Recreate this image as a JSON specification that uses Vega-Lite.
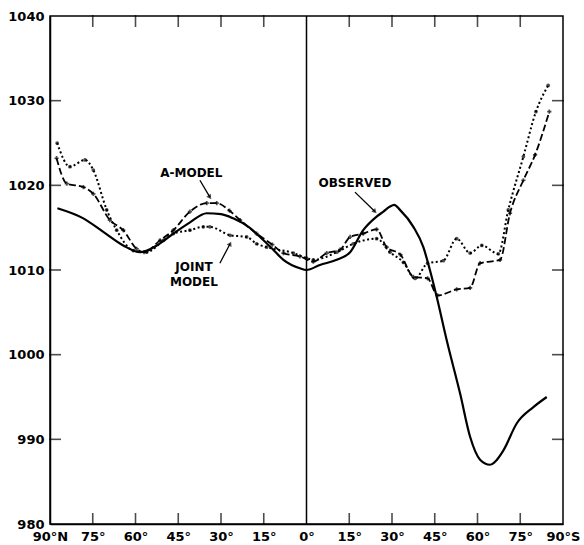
{
  "$schema": "https://vega.github.io/schema/vega-lite/v6.json",
  "width": 513,
  "height": 508,
  "autosize": {"type": "none"},
  "padding": {"left": 50, "top": 16, "right": 21, "bottom": 21},
  "config": {
    "view": {"stroke": "black", "strokeWidth": 1.5},
    "axis": {
      "grid": false,
      "title": null,
      "domainColor": "black",
      "domainWidth": 1.5,
      "ticks": false,
      "labelColor": "black",
      "labelFont": "DejaVu Sans",
      "labelFontSize": 13,
      "labelFontWeight": "bold",
      "labelPadding": 6,
      "labelFlush": false
    }
  },
  "datasets": {
    "curves": [
      {"series": "Observed", "lat": -87.4, "p": 1017.3},
      {"series": "Observed", "lat": -78.3, "p": 1016.1},
      {"series": "Observed", "lat": -71.3, "p": 1014.5},
      {"series": "Observed", "lat": -64.3, "p": 1012.9},
      {"series": "Observed", "lat": -58.4, "p": 1012.1},
      {"series": "Observed", "lat": -52, "p": 1013.0},
      {"series": "Observed", "lat": -46.7, "p": 1014.3},
      {"series": "Observed", "lat": -41, "p": 1015.6},
      {"series": "Observed", "lat": -35, "p": 1016.7},
      {"series": "Observed", "lat": -30, "p": 1016.6},
      {"series": "Observed", "lat": -25.7, "p": 1016.1},
      {"series": "Observed", "lat": -20, "p": 1015.0},
      {"series": "Observed", "lat": -16.3, "p": 1013.9},
      {"series": "Observed", "lat": -12, "p": 1012.5},
      {"series": "Observed", "lat": -8.1, "p": 1011.2},
      {"series": "Observed", "lat": -2.3, "p": 1010.2},
      {"series": "Observed", "lat": 0, "p": 1010.0},
      {"series": "Observed", "lat": 4.7, "p": 1010.6},
      {"series": "Observed", "lat": 10.6, "p": 1011.2},
      {"series": "Observed", "lat": 15.3, "p": 1012.1},
      {"series": "Observed", "lat": 19.9, "p": 1014.7},
      {"series": "Observed", "lat": 24.6, "p": 1016.3},
      {"series": "Observed", "lat": 27, "p": 1016.9},
      {"series": "Observed", "lat": 29.3, "p": 1017.5},
      {"series": "Observed", "lat": 30.8, "p": 1017.7},
      {"series": "Observed", "lat": 32.8, "p": 1017.1},
      {"series": "Observed", "lat": 37.5, "p": 1015.1},
      {"series": "Observed", "lat": 41, "p": 1012.7},
      {"series": "Observed", "lat": 43.3, "p": 1010.0},
      {"series": "Observed", "lat": 45.7, "p": 1006.8},
      {"series": "Observed", "lat": 49.2, "p": 1001.7},
      {"series": "Observed", "lat": 53.9, "p": 995.4},
      {"series": "Observed", "lat": 57.4, "p": 990.3},
      {"series": "Observed", "lat": 60.9, "p": 987.6},
      {"series": "Observed", "lat": 64.4, "p": 987.0},
      {"series": "Observed", "lat": 66, "p": 987.3},
      {"series": "Observed", "lat": 69.1, "p": 988.7},
      {"series": "Observed", "lat": 73.8, "p": 991.9},
      {"series": "Observed", "lat": 79.6, "p": 993.8},
      {"series": "Observed", "lat": 84.3, "p": 995.0},

      {"series": "A-model", "lat": -87.7, "p": 1023.2},
      {"series": "A-model", "lat": -84.1, "p": 1020.2},
      {"series": "A-model", "lat": -78.3, "p": 1019.8},
      {"series": "A-model", "lat": -74.8, "p": 1019.0},
      {"series": "A-model", "lat": -69, "p": 1015.9},
      {"series": "A-model", "lat": -64.3, "p": 1014.7},
      {"series": "A-model", "lat": -59.6, "p": 1012.5},
      {"series": "A-model", "lat": -57, "p": 1012.1},
      {"series": "A-model", "lat": -51.4, "p": 1013.5},
      {"series": "A-model", "lat": -46.7, "p": 1014.7},
      {"series": "A-model", "lat": -40.9, "p": 1016.9},
      {"series": "A-model", "lat": -35, "p": 1017.9},
      {"series": "A-model", "lat": -31.5, "p": 1017.9},
      {"series": "A-model", "lat": -27, "p": 1017.0},
      {"series": "A-model", "lat": -23.3, "p": 1015.9},
      {"series": "A-model", "lat": -17.5, "p": 1014.3},
      {"series": "A-model", "lat": -12, "p": 1013.0},
      {"series": "A-model", "lat": -8.1, "p": 1012.0},
      {"series": "A-model", "lat": -2.3, "p": 1011.6},
      {"series": "A-model", "lat": 2.4, "p": 1011.0},
      {"series": "A-model", "lat": 7.1, "p": 1012.0},
      {"series": "A-model", "lat": 11.8, "p": 1012.4},
      {"series": "A-model", "lat": 15.3, "p": 1013.9},
      {"series": "A-model", "lat": 19.9, "p": 1014.3},
      {"series": "A-model", "lat": 24.6, "p": 1014.8},
      {"series": "A-model", "lat": 28.1, "p": 1012.7},
      {"series": "A-model", "lat": 33, "p": 1011.8},
      {"series": "A-model", "lat": 37.5, "p": 1009.2},
      {"series": "A-model", "lat": 42.5, "p": 1009.0},
      {"series": "A-model", "lat": 46, "p": 1007.0},
      {"series": "A-model", "lat": 52.7, "p": 1007.7},
      {"series": "A-model", "lat": 57.4, "p": 1007.9},
      {"series": "A-model", "lat": 60.9, "p": 1010.8},
      {"series": "A-model", "lat": 67.9, "p": 1011.2},
      {"series": "A-model", "lat": 71.4, "p": 1016.7},
      {"series": "A-model", "lat": 76.1, "p": 1020.6},
      {"series": "A-model", "lat": 80.2, "p": 1023.6},
      {"series": "A-model", "lat": 85.2, "p": 1028.7},

      {"series": "Joint model", "lat": -87.5, "p": 1025.0},
      {"series": "Joint model", "lat": -83, "p": 1022.2},
      {"series": "Joint model", "lat": -77.7, "p": 1023.0},
      {"series": "Joint model", "lat": -74.8, "p": 1021.8},
      {"series": "Joint model", "lat": -70.1, "p": 1017.1},
      {"series": "Joint model", "lat": -66.6, "p": 1014.7},
      {"series": "Joint model", "lat": -60.8, "p": 1012.3},
      {"series": "Joint model", "lat": -56.1, "p": 1012.1},
      {"series": "Joint model", "lat": -50.2, "p": 1013.5},
      {"series": "Joint model", "lat": -46.7, "p": 1014.3},
      {"series": "Joint model", "lat": -40.9, "p": 1014.7},
      {"series": "Joint model", "lat": -36.2, "p": 1015.1},
      {"series": "Joint model", "lat": -33.9, "p": 1015.1},
      {"series": "Joint model", "lat": -26.8, "p": 1014.1},
      {"series": "Joint model", "lat": -21, "p": 1013.9},
      {"series": "Joint model", "lat": -17.5, "p": 1013.1},
      {"series": "Joint model", "lat": -14, "p": 1012.7},
      {"series": "Joint model", "lat": -4.6, "p": 1012.0},
      {"series": "Joint model", "lat": 0, "p": 1011.4},
      {"series": "Joint model", "lat": 2.4, "p": 1011.2},
      {"series": "Joint model", "lat": 10.6, "p": 1012.1},
      {"series": "Joint model", "lat": 16.4, "p": 1013.1},
      {"series": "Joint model", "lat": 24.6, "p": 1013.7},
      {"series": "Joint model", "lat": 29.3, "p": 1012.1},
      {"series": "Joint model", "lat": 34, "p": 1010.9},
      {"series": "Joint model", "lat": 38.1, "p": 1009.0},
      {"series": "Joint model", "lat": 42.5, "p": 1010.8},
      {"series": "Joint model", "lat": 48, "p": 1011.1},
      {"series": "Joint model", "lat": 52.7, "p": 1013.7},
      {"series": "Joint model", "lat": 57.4, "p": 1012.0},
      {"series": "Joint model", "lat": 61.5, "p": 1012.9},
      {"series": "Joint model", "lat": 67.3, "p": 1011.9},
      {"series": "Joint model", "lat": 70.8, "p": 1017.1},
      {"series": "Joint model", "lat": 76.1, "p": 1023.4},
      {"series": "Joint model", "lat": 80.5, "p": 1028.7},
      {"series": "Joint model", "lat": 84.8, "p": 1031.8}
    ],
    "labels": [
      {"text": "A-MODEL", "lat": -40.4, "p": 1021.5},
      {"text": "JOINT", "lat": -39.5, "p": 1010.3},
      {"text": "MODEL", "lat": -39.5, "p": 1008.6},
      {"text": "OBSERVED", "lat": 17, "p": 1020.3}
    ],
    "arrows": [
      {"name": "A", "lat": -37.4, "p": 1020.6, "lat2": -33.9, "p2": 1018.6},
      {"name": "J", "lat": -30.4, "p": 1010.8, "lat2": -26.8, "p2": 1013.1},
      {"name": "O", "lat": 17, "p": 1019.2, "lat2": 24, "p2": 1016.9}
    ],
    "zero": [{"lat": 0, "p": 1010}],
    "xticks": [
      {"lat": -75, "p": 980}, {"lat": -60, "p": 980}, {"lat": -45, "p": 980}, {"lat": -30, "p": 980}, {"lat": -15, "p": 980},
      {"lat": 15, "p": 980}, {"lat": 30, "p": 980}, {"lat": 45, "p": 980}, {"lat": 60, "p": 980}, {"lat": 75, "p": 980}
    ],
    "yticks": [
      {"lat": -90, "p": 990}, {"lat": -90, "p": 1000}, {"lat": -90, "p": 1010}, {"lat": -90, "p": 1020}, {"lat": -90, "p": 1030}
    ]
  },
  "resolve": {"axis": {"x": "independent", "y": "independent"}},
  "layer": [
    {
      "data": {"name": "curves"},
      "transform": [{"filter": "datum.series == 'Observed'"}],
      "mark": {"type": "line", "color": "black", "strokeWidth": 2.2, "interpolate": "monotone"},
      "encoding": {
        "x": {
          "field": "lat", "type": "quantitative",
          "scale": {"domain": [-90, 90], "nice": false},
          "axis": {
            "orient": "bottom",
            "values": [-90, -75, -60, -45, -30, -15, 0, 15, 30, 45, 60, 75, 90],
            "labelExpr": "datum.value == -90 ? '90°N' : datum.value == 90 ? '90°S' : abs(datum.value) + '°'"
          }
        },
        "y": {
          "field": "p", "type": "quantitative",
          "scale": {"domain": [980, 1040], "nice": false, "zero": false},
          "axis": {
            "orient": "left",
            "values": [980, 990, 1000, 1010, 1020, 1030, 1040],
            "format": "d"
          }
        }
      }
    },
    {
      "data": {"name": "zero"},
      "mark": {"type": "rule", "color": "black", "strokeWidth": 1.5},
      "encoding": {
        "x": {"field": "lat", "type": "quantitative", "scale": {"domain": [-90, 90], "nice": false}, "axis": null}
      }
    },
    {
      "data": {"name": "xticks"},
      "mark": {"type": "tick", "color": "black", "thickness": 1.6, "size": 12, "orient": "vertical", "yOffset": -5},
      "encoding": {
        "x": {"field": "lat", "type": "quantitative", "scale": {"domain": [-90, 90], "nice": false}, "axis": null},
        "y": {"field": "p", "type": "quantitative", "scale": {"domain": [980, 1040], "nice": false, "zero": false}, "axis": null}
      }
    },
    {
      "data": {"name": "xticks"},
      "mark": {"type": "tick", "color": "black", "thickness": 1.6, "size": 12, "orient": "vertical", "yOffset": -503},
      "encoding": {
        "x": {"field": "lat", "type": "quantitative", "scale": {"domain": [-90, 90], "nice": false}, "axis": null},
        "y": {"field": "p", "type": "quantitative", "scale": {"domain": [980, 1040], "nice": false, "zero": false}, "axis": null}
      }
    },
    {
      "data": {"name": "yticks"},
      "mark": {"type": "tick", "color": "black", "thickness": 1.6, "size": 12, "orient": "horizontal", "xOffset": 5},
      "encoding": {
        "x": {"field": "lat", "type": "quantitative", "scale": {"domain": [-90, 90], "nice": false}, "axis": null},
        "y": {"field": "p", "type": "quantitative", "scale": {"domain": [980, 1040], "nice": false, "zero": false}, "axis": null}
      }
    },
    {
      "data": {"name": "yticks"},
      "mark": {"type": "tick", "color": "black", "thickness": 1.6, "size": 12, "orient": "horizontal", "xOffset": 508},
      "encoding": {
        "x": {"field": "lat", "type": "quantitative", "scale": {"domain": [-90, 90], "nice": false}, "axis": null},
        "y": {"field": "p", "type": "quantitative", "scale": {"domain": [980, 1040], "nice": false, "zero": false}, "axis": null}
      }
    },
    {
      "data": {"name": "curves"},
      "transform": [{"filter": "datum.series == 'A-model'"}],
      "mark": {"type": "line", "color": "black", "strokeWidth": 1.8, "strokeDash": [7, 3], "interpolate": "monotone"},
      "encoding": {
        "x": {"field": "lat", "type": "quantitative", "scale": {"domain": [-90, 90], "nice": false}, "axis": null},
        "y": {"field": "p", "type": "quantitative", "scale": {"domain": [980, 1040], "nice": false, "zero": false}, "axis": null}
      }
    },
    {
      "data": {"name": "curves"},
      "transform": [{"filter": "datum.series == 'A-model'"}],
      "mark": {"type": "point", "shape": "cross", "filled": true, "color": "black", "size": 18},
      "encoding": {
        "x": {"field": "lat", "type": "quantitative", "scale": {"domain": [-90, 90], "nice": false}, "axis": null},
        "y": {"field": "p", "type": "quantitative", "scale": {"domain": [980, 1040], "nice": false, "zero": false}, "axis": null}
      }
    },
    {
      "data": {"name": "curves"},
      "transform": [{"filter": "datum.series == 'Joint model'"}],
      "mark": {"type": "line", "color": "black", "strokeWidth": 2, "strokeDash": [2, 2.5], "interpolate": "monotone"},
      "encoding": {
        "x": {"field": "lat", "type": "quantitative", "scale": {"domain": [-90, 90], "nice": false}, "axis": null},
        "y": {"field": "p", "type": "quantitative", "scale": {"domain": [980, 1040], "nice": false, "zero": false}, "axis": null}
      }
    },
    {
      "data": {"name": "curves"},
      "transform": [{"filter": "datum.series == 'Joint model'"}],
      "mark": {"type": "point", "shape": "circle", "filled": true, "color": "black", "size": 14},
      "encoding": {
        "x": {"field": "lat", "type": "quantitative", "scale": {"domain": [-90, 90], "nice": false}, "axis": null},
        "y": {"field": "p", "type": "quantitative", "scale": {"domain": [980, 1040], "nice": false, "zero": false}, "axis": null}
      }
    },
    {
      "data": {"name": "labels"},
      "mark": {"type": "text", "font": "DejaVu Sans", "fontWeight": "bold", "fontSize": 12, "color": "black", "align": "center", "baseline": "middle"},
      "encoding": {
        "x": {"field": "lat", "type": "quantitative", "scale": {"domain": [-90, 90], "nice": false}, "axis": null},
        "y": {"field": "p", "type": "quantitative", "scale": {"domain": [980, 1040], "nice": false, "zero": false}, "axis": null},
        "text": {"field": "text"}
      }
    },
    {
      "data": {"name": "arrows"},
      "mark": {"type": "rule", "color": "black", "strokeWidth": 1.3},
      "encoding": {
        "x": {"field": "lat", "type": "quantitative", "scale": {"domain": [-90, 90], "nice": false}, "axis": null},
        "y": {"field": "p", "type": "quantitative", "scale": {"domain": [980, 1040], "nice": false, "zero": false}, "axis": null},
        "x2": {"field": "lat2"},
        "y2": {"field": "p2"}
      }
    },
    {
      "data": {"name": "arrows"},
      "transform": [{"filter": "datum.name == 'A'"}],
      "mark": {"type": "point", "shape": "triangle-up", "filled": true, "color": "black", "size": 30, "angle": 145},
      "encoding": {
        "x": {"field": "lat2", "type": "quantitative", "scale": {"domain": [-90, 90], "nice": false}, "axis": null},
        "y": {"field": "p2", "type": "quantitative", "scale": {"domain": [980, 1040], "nice": false, "zero": false}, "axis": null}
      }
    },
    {
      "data": {"name": "arrows"},
      "transform": [{"filter": "datum.name == 'J'"}],
      "mark": {"type": "point", "shape": "triangle-up", "filled": true, "color": "black", "size": 30, "angle": 27},
      "encoding": {
        "x": {"field": "lat2", "type": "quantitative", "scale": {"domain": [-90, 90], "nice": false}, "axis": null},
        "y": {"field": "p2", "type": "quantitative", "scale": {"domain": [980, 1040], "nice": false, "zero": false}, "axis": null}
      }
    },
    {
      "data": {"name": "arrows"},
      "transform": [{"filter": "datum.name == 'O'"}],
      "mark": {"type": "point", "shape": "triangle-up", "filled": true, "color": "black", "size": 30, "angle": 135},
      "encoding": {
        "x": {"field": "lat2", "type": "quantitative", "scale": {"domain": [-90, 90], "nice": false}, "axis": null},
        "y": {"field": "p2", "type": "quantitative", "scale": {"domain": [980, 1040], "nice": false, "zero": false}, "axis": null}
      }
    }
  ]
}
